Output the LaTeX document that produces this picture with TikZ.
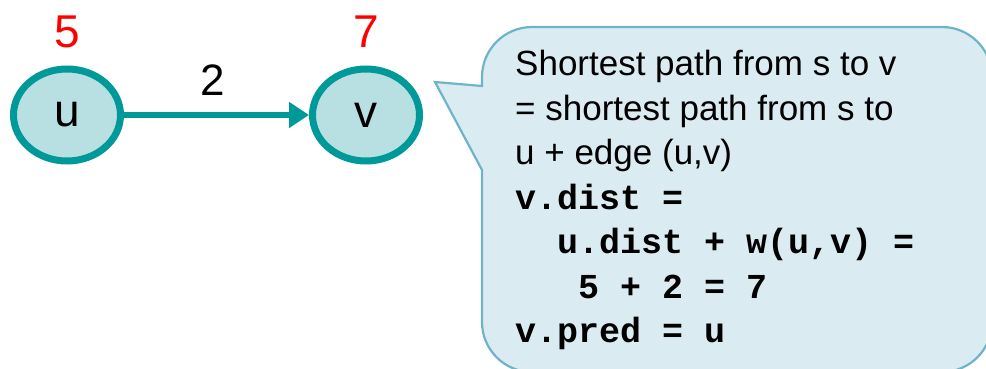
\documentclass[tikz,border=0pt]{standalone}
\usepackage{fontspec}
\setmainfont{Liberation Sans}
\setmonofont{Liberation Mono}
\usetikzlibrary{arrows.meta,positioning,shapes.geometric}
\definecolor{vxedge}{RGB}{0,153,153}
\definecolor{vxfill}{RGB}{184,224,227}
\definecolor{clfill}{RGB}{219,235,242}
\definecolor{cledge}{RGB}{110,180,201}
\tikzset{
  vxnode/.style={ellipse, draw=vxedge, fill=vxfill, line width=7pt,
    minimum width=107pt, minimum height=92pt, font=\fontsize{46}{50}\selectfont},
  distlbl/.style={text=red, font=\fontsize{46}{52}\selectfont, inner sep=0pt},
  wlbl/.style={font=\fontsize{44}{50}\selectfont, inner sep=0pt},
  edgearr/.style={-{Triangle[length=20pt,width=25pt]}, line width=6pt, draw=vxedge},
}
\begin{document}
\begin{tikzpicture}[x=1pt, y=1pt,
  callout/.style={draw=cledge, fill=clfill, line width=2.2pt},
]
  \useasboundingbox (0,0) rectangle (986,368);
  \clip (0,0) rectangle (986,368);
  % callout box with pointer
  \draw[callout] (482,198) -- (482,46) arc[start angle=180, end angle=270, radius=50]
    -- (942,-4) arc[start angle=270, end angle=360, radius=50]
    -- (992,291) arc[start angle=0, end angle=90, radius=50]
    -- (532,341) arc[start angle=90, end angle=180, radius=50]
    -- (482,282) -- (435,286) -- cycle;
  \node[anchor=north west, align=left, inner sep=0pt,
        font=\fontsize{35}{44.5}\selectfont] (txt) at (515,318)
    {Shortest path from s to v\\
     = shortest path from s to\\
     u + edge (u,v)\\
     {\ttfamily\bfseries v.dist =}\\
     {\ttfamily\bfseries\phantom{vv}u.dist + w(u,v) =}\\
     {\ttfamily\bfseries\phantom{vvv}5 + 2 = 7}\\
     {\ttfamily\bfseries v.pred = u}};
  % graph
  \node[vxnode] (u) at (67,253) {u};
  \node[vxnode] (v) at (366,253) {v};
  \draw[edgearr] (u) -- (v);
  \node[wlbl] (w) at (213,288) {2};
  \node[distlbl] (du) at (67,336) {5};
  \node[distlbl] (dv) at (366,336) {7};
\end{tikzpicture}
\end{document}
